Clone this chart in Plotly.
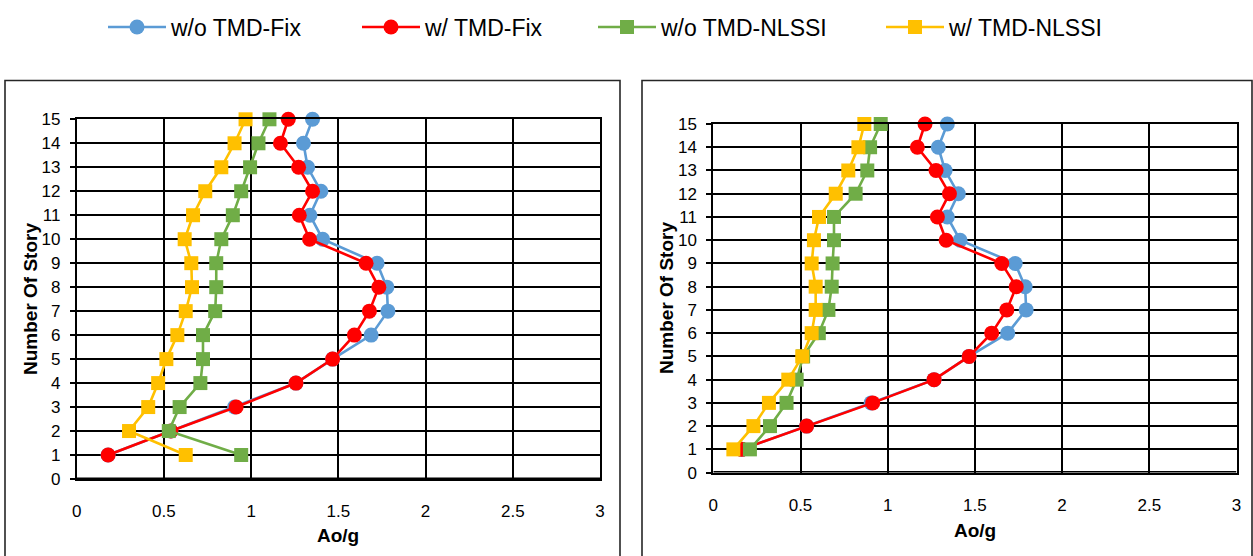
import plotly.graph_objects as go

# Story levels (y) shared by every series
stories = list(range(1, 16))

# Peak floor acceleration ratio Ao/g, left panel
left_wo_tmd_fix = [0.18, 0.54, 0.905, 1.257, 1.467, 1.688, 1.784, 1.778, 1.722, 1.41, 1.337, 1.40, 1.324, 1.30, 1.352]
left_w_tmd_fix = [0.18, 0.54, 0.914, 1.257, 1.467, 1.592, 1.678, 1.732, 1.659, 1.335, 1.276, 1.352, 1.272, 1.168, 1.213]
left_wo_tmd_nlssi = [0.943, 0.528, 0.59, 0.709, 0.724, 0.724, 0.794, 0.80, 0.80, 0.829, 0.895, 0.943, 0.994, 1.042, 1.105]
left_w_tmd_nlssi = [0.625, 0.30, 0.41, 0.467, 0.514, 0.577, 0.625, 0.661, 0.657, 0.619, 0.667, 0.737, 0.829, 0.905, 0.968]

# Peak floor acceleration ratio Ao/g, right panel
right_wo_tmd_fix = [0.163, 0.535, 0.905, 1.266, 1.467, 1.688, 1.794, 1.788, 1.731, 1.415, 1.342, 1.405, 1.329, 1.29, 1.342]
right_w_tmd_fix = [0.163, 0.535, 0.914, 1.266, 1.467, 1.596, 1.683, 1.737, 1.654, 1.335, 1.285, 1.354, 1.277, 1.17, 1.214]
right_wo_tmd_nlssi = [0.21, 0.325, 0.42, 0.478, 0.515, 0.605, 0.66, 0.679, 0.684, 0.692, 0.692, 0.816, 0.883, 0.899, 0.96]
right_w_tmd_nlssi = [0.115, 0.23, 0.319, 0.43, 0.51, 0.564, 0.587, 0.587, 0.564, 0.577, 0.606, 0.702, 0.774, 0.832, 0.866]

series_names = ["w/o TMD-Fix", "w/ TMD-Fix", "w/o TMD-NLSSI", "w/ TMD-NLSSI"]
series_colors = ["#5B9BD5", "#FF0000", "#70AD47", "#FFC000"]
series_symbols = ["circle", "circle", "square", "square"]

x_ticks = [0, 0.5, 1, 1.5, 2, 2.5, 3]
x_tick_text = ["0", "0.5", "1", "1.5", "2", "2.5", "3"]
y_ticks = list(range(0, 16))

FONT = "Liberation Sans, Arial, sans-serif"
W, H = 1253, 556

left_data = [left_wo_tmd_fix, left_w_tmd_fix, left_wo_tmd_nlssi, left_w_tmd_nlssi]
right_data = [right_wo_tmd_fix, right_w_tmd_fix, right_wo_tmd_nlssi, right_w_tmd_nlssi]

legend_ids = ["legend", "legend2", "legend3", "legend4"]
legend_x_px = [103, 357, 593, 881]

fig = go.Figure()

for panel, data in enumerate([left_data, right_data]):
    xa = "x" if panel == 0 else "x2"
    ya = "y" if panel == 0 else "y2"
    for i, vals in enumerate(data):
        size = 15 if series_symbols[i] == "circle" else 14
        fig.add_trace(go.Scatter(
            x=vals, y=stories, xaxis=xa, yaxis=ya,
            mode="lines+markers",
            name=series_names[i],
            line=dict(color=series_colors[i], width=2.6),
            marker=dict(symbol=series_symbols[i], size=size, color=series_colors[i],
                        line=dict(width=0)),
            cliponaxis=False,
            showlegend=(panel == 0),
            legend=legend_ids[i],
        ))

grid_style = dict(showgrid=True, gridcolor="#000000", gridwidth=1.8,
                  showline=True, linecolor="#000000", linewidth=1.8, mirror=True,
                  zeroline=False)

def x_axis(domain, anchor):
    return dict(domain=domain, anchor=anchor, range=[0, 3], tickmode="array",
                tickvals=x_ticks, ticktext=x_tick_text,
                tickfont=dict(family=FONT, size=17, color="#000000"),
                ticks="", ticklabelstandoff=16, fixedrange=True, automargin=False,
                **grid_style)

def y_axis(domain, anchor):
    return dict(domain=domain, anchor=anchor, range=[0, 15], tickmode="array",
                tickvals=y_ticks, ticktext=[str(v) for v in y_ticks],
                tickfont=dict(family=FONT, size=17, color="#000000"),
                ticks="outside", ticklen=5, tickwidth=1.8, tickcolor="#000000",
                ticklabelstandoff=6, fixedrange=True, automargin=False, **grid_style)

left_xd = [76.7 / W, 600 / W]
left_yd = [1 - 479 / H, 1 - 119.3 / H]
right_xd = [713.3 / W, 1236.5 / W]
right_yd = [1 - 472.6 / H, 1 - 124 / H]

layout = dict(
    width=W, height=H,
    margin=dict(l=0, r=0, t=0, b=0, pad=0, autoexpand=False),
    paper_bgcolor="#FFFFFF", plot_bgcolor="#FFFFFF",
    xaxis=x_axis(left_xd, "y"), yaxis=y_axis(left_yd, "x"),
    xaxis2=x_axis(right_xd, "y2"), yaxis2=y_axis(right_yd, "x2"),
    shapes=[],
    annotations=[],
)

for i, lid in enumerate(legend_ids):
    layout[lid] = dict(
        x=legend_x_px[i] / W, y=1 - 27 / H, xanchor="left", yanchor="middle",
        orientation="h", bgcolor="rgba(0,0,0,0)", borderwidth=0,
        itemwidth=58, font=dict(family=FONT, size=23, color="#000000"),
        itemclick=False, itemdoubleclick=False,
    )

fig.update_layout(**layout)

# Chart-area frames around each panel
frame = dict(type="rect", xref="paper", yref="paper", layer="below",
             line=dict(color="#262626", width=1.6), fillcolor="rgba(0,0,0,0)")
fig.add_shape(x0=5 / W, x1=620 / W, y0=-0.05, y1=1 - 80.5 / H, **frame)
fig.add_shape(x0=642 / W, x1=1252 / W, y0=-0.05, y1=1 - 80.5 / H, **frame)

# Heavier baseline at story 0
fig.add_shape(type="line", xref="x", yref="y", x0=0, x1=3, y0=0, y1=0,
              line=dict(color="#000000", width=3))
fig.add_shape(type="line", xref="x2", yref="y2", x0=0, x1=3, y0=0, y1=0,
              line=dict(color="#000000", width=3))

# Axis titles
title_font = dict(family=FONT, size=19, color="#000000")
fig.add_annotation(text="<b>Ao/g</b>", xref="paper", yref="paper",
                   x=338 / W, y=1 - 535 / H, showarrow=False, font=title_font,
                   xanchor="center", yanchor="middle")
fig.add_annotation(text="<b>Ao/g</b>", xref="paper", yref="paper",
                   x=975 / W, y=1 - 530 / H, showarrow=False, font=title_font,
                   xanchor="center", yanchor="middle")
fig.add_annotation(text="<b>Number Of Story</b>", xref="paper", yref="paper",
                   x=30 / W, y=1 - 299 / H, showarrow=False, font=title_font,
                   textangle=-90, xanchor="center", yanchor="middle")
fig.add_annotation(text="<b>Number Of Story</b>", xref="paper", yref="paper",
                   x=666 / W, y=1 - 298 / H, showarrow=False, font=title_font,
                   textangle=-90, xanchor="center", yanchor="middle")

fig.write_html("out.html")
